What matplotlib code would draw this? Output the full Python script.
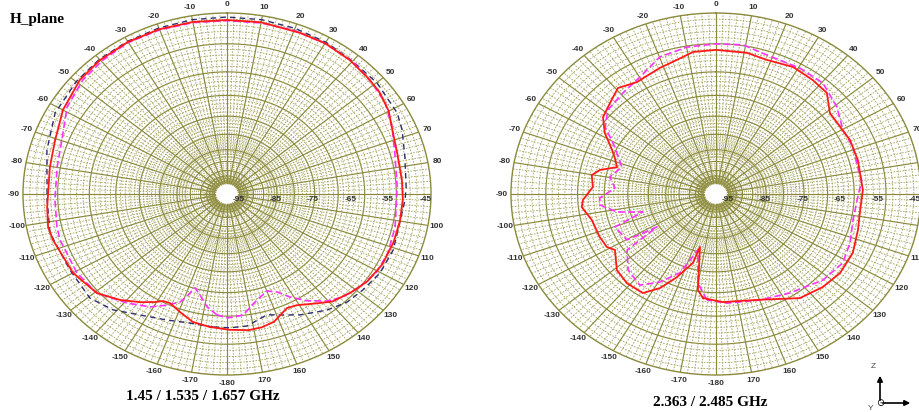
import numpy as np
import matplotlib.pyplot as plt

# Levels (angle in degrees, level in dB)

# left plot: 1.45 / 1.535 / 1.657 GHz
lo_red_ang = [-173.5, -166.7, -160.6, -155.1, -152.0, -149.4, -144.5, -138.2, -130.7, -120.0,
              -106.6, -101.7, -94.7, -80.3, -70.5, -60.0, -48.9, -40.1, -30, -20, -10, 0, 10,
              22, 30, 39, 47, 53, 60, 65, 75, 85, 92, 100, 108, 117, 125, 132, 139, 144, 151,
              155, 162, 167, 172, 179]
lo_red_db = [-57.7, -58.4, -60.3, -61.8, -61.5, -60.2, -58.0, -55.2, -52.2, -50.5,
             -49.5, -49.2, -49.8, -50.0, -49.3, -47.4, -45.8, -45.3, -45.1, -45.2, -45.4, -45.6, -45.5,
             -45.7, -45.6, -46.0, -46.6, -47.0, -48.1, -49.5, -50.9, -51.1, -51.0, -51.1, -51.2, -51.4,
             -52.2, -53.6, -55.1, -57.3, -59.7, -60.1, -57.5, -56.8, -56.6, -57.1]

lo_mag_ang = [-175.8, -171.1, -166.7, -163.2, -161.1, -158.9, -154.4, -148.9, -140.9, -130.7,
              -120.7, -107.2, -102.3, -92.2, -79.9, -69.8, -58.5, -48.3, -39.4, -30.3, -20, -10,
              0, 10, 20, 30, 40.3, 49.2, 57.0, 65.4, 74.6, 87.3, 102.5, 112.4, 120.4, 128.2,
              135.0, 140.3, 146.4, 151.5, 155.6, 159.9, 165.9, 173.3, 179.6]
lo_mag_db = [-61.5, -63.6, -66.7, -68.5, -65.8, -63.1, -60.9, -58.3, -55.7, -52.2,
             -51.4, -51.3, -51.5, -52.0, -51.9, -51.0, -47.9, -46.4, -45.8, -45.3, -45.4, -45.6,
             -45.8, -45.7, -45.6, -45.6, -45.9, -46.8, -47.6, -49.5, -51.5, -52.5, -52.0, -51.5,
             -51.6, -52.8, -54.2, -56.1, -59.4, -62.7, -65.6, -66.9, -65.1, -61.3, -60.7]

lo_navy_ang = [-174.7, -165.7, -157.1, -147.5, -138.9, -130.6, -118.6, -103.9, -92.1, -74.6,
               -62, -50, -40, -30, -20, -10, 0, 10, 20, 30, 40, 50.2, 61.8, 67.6, 76.8, 87.5,
               92.2, 110.8, 120.2, 128.5, 135.4, 142.6, 151.8, 158.7, 163.6, 172.3, 178.9]
lo_navy_db = [-57.8, -57.9, -56.8, -54.8, -51.7, -49.8, -50.2, -49.3, -49.9, -48.1,
              -46.0, -45.4, -45.0, -44.9, -44.8, -44.7, -44.7, -44.7, -44.9, -45.2, -45.8, -45.8,
              -46.4, -47.4, -49.2, -50.1, -50.4, -50.5, -50.7, -51.6, -52.3, -54.0, -56.7, -58.9,
              -60.1, -57.9, -57.7]

# right plot: 2.363 / 2.485 GHz
hi_red_ang = [-173.7, -170.6, -165.1, -163.6, -157.5, -152.3, -146.9, -138.6, -131.0, -122.1,
              -118.8, -112.8, -103.4, -96.3, -92.9, -86.3, -80.2, -76.8, -72.9, -68.0, -64.4,
              -58.1, -52.4, -45.8, -39.2, -31.9, -21.4, -16.1, -8.1, 0, 11.0, 18.6, 28.2, 36.9,
              44.1, 51.2, 65.5, 74.8, 88.2, 98.5, 106.0, 116.0, 125.8, 134.6, 144.5, 161.1, 176.7]
hi_red_db = [-66.5, -68.7, -81.5, -76.4, -70.9, -66.0, -62.4, -62.2, -63.1, -66.3,
             -64.9, -64.5, -64.1, -62.1, -62.6, -65.2, -64.5, -66.3, -70.5, -69.0, -67.4,
             -63.2, -60.1, -58.7, -56.8, -58.3, -57.2, -56.6, -54.8, -54.6, -54.7, -55.4, -54.6,
             -55.1, -55.6, -59.1, -58.8, -58.9, -58.9, -59.3, -58.7, -57.5, -57.3, -58.1, -59.5,
             -64.3, -65.4]

hi_mag_ang = [-175.7, -169.9, -164.1, -158.0, -150.7, -143.6, -134.4, -125.5, -122.3, -120.3,
              -110.3, -105.6, -101.6, -96.1, -92.2, -86.2, -79.7, -72.0, -64.9, -62.2, -55.6,
              -48.6, -39.1, -29.9, -19.8, -9.9, 0, 9.1, 18.0, 30.5, 40.4, 50.8, 60.3, 68.7, 77.9,
              83.8, 92.8, 102.1, 112.5, 121.6, 132.3, 146.6, 159.9, 174.9]
hi_mag_db = [-66.0, -70.8, -80.5, -72.4, -67.6, -63.9, -65.3, -69.0, -79.4, -70.6,
             -69.4, -77.8, -71.1, -67.0, -67.1, -71.1, -69.3, -71.7, -68.9, -67.6, -62.3,
             -59.7, -58.8, -57.4, -54.1, -53.1, -52.8, -52.5, -54.0, -54.0, -54.1, -56.5, -59.1,
             -58.9, -59.4, -59.0, -60.4, -60.7, -59.4, -58.4, -59.5, -62.3, -64.0, -65.0]

radial_labels = [-95, -85, -75, -65, -55, -45]
captions = ['1.45 / 1.535 / 1.657 GHz', '2.363 / 2.485 GHz']

R_MIN, R_MAX = -98.0, -43.5
HOLE = 0.05
GRID_MAJOR = '#8b8a3c'
GRID_MINOR = '#a3a35e'
# chart paper ring spacing (fraction of outer radius), denser towards the centre
RINGS = [1.0, 0.83, 0.675, 0.545, 0.43, 0.33, 0.245, 0.18, 0.13, 0.10, 0.085, 0.072, 0.062]


def frac_to_r(f):
    return R_MIN + f * (R_MAX - R_MIN)


def closed(ang, db):
    return np.deg2rad(np.r_[ang, ang[0]]), np.r_[db, db[0]]


def polar_paper(ax):
    ax.set_theta_zero_location('N')
    ax.set_theta_direction(-1)
    ax.set_ylim(R_MIN, R_MAX)
    ax.set_aspect('auto')
    ax.grid(False)
    ax.set_xticks([])
    ax.set_yticks([])
    ax.spines['polar'].set_color(GRID_MAJOR)
    ax.spines['polar'].set_linewidth(1.0)

    th = np.linspace(0, 2 * np.pi, 721)
    for f in RINGS[1:]:
        ax.plot(th, np.full(th.size, frac_to_r(f)), color=GRID_MAJOR, lw=0.85, zorder=1)
    for f0, f1 in zip(RINGS[:-1], RINGS[1:]):
        for k in range(1, 5):
            f = f1 + (f0 - f1) * k / 5
            ax.plot(th, np.full(th.size, frac_to_r(f)), color=GRID_MINOR, lw=0.6,
                    ls=(0, (2, 1.6)), zorder=1)

    r_in = frac_to_r(HOLE)
    for d in range(0, 360, 2):
        t = np.deg2rad(d)
        if d % 10 == 0:
            ax.plot([t, t], [r_in, R_MAX], color=GRID_MAJOR, lw=0.85, zorder=1)
        else:
            ax.plot([t, t], [frac_to_r(0.2), R_MAX], color=GRID_MINOR, lw=0.6,
                    ls=(0, (2, 1.6)), zorder=1)

    ax.fill(th, np.full(th.size, r_in), color='white', zorder=4)

    r_lab = frac_to_r(1.045)
    for d in range(-170, 190, 10):
        if d == 90:
            continue
        txt = '-180' if d == 180 else str(d)
        ax.text(np.deg2rad(d), r_lab, txt, ha='center', va='center', fontsize=6,
                fontweight='bold', family='Liberation Sans', color='#333333', clip_on=False)

    for v in radial_labels:
        ax.annotate(str(v), xy=(np.pi / 2, v), xytext=(0, -4), textcoords='offset points',
                    ha='center', va='center', fontsize=6, fontweight='bold',
                    family='Liberation Sans', color='#333333', zorder=6)


fig = plt.figure(figsize=(9.19, 4.12), dpi=100)
ax1 = fig.add_axes([0.025, 0.0898, 0.444, 0.8786], projection='polar')
ax2 = fig.add_axes([0.556, 0.0898, 0.446, 0.8786], projection='polar')

for ax in (ax1, ax2):
    polar_paper(ax)

t, r = closed(lo_navy_ang, lo_navy_db)
ax1.plot(t, r, color='#2e2e6e', lw=1.0, ls=(0, (4, 3)), zorder=5)
t, r = closed(lo_mag_ang, lo_mag_db)
ax1.plot(t, r, color='#ff33ff', lw=1.2, ls=(0, (4, 2)), zorder=5)
t, r = closed(lo_red_ang, lo_red_db)
ax1.plot(t, r, color='#ff1a1a', lw=1.3, zorder=5)

t, r = closed(hi_mag_ang, hi_mag_db)
ax2.plot(t, r, color='#ff33ff', lw=1.2, ls=(0, (4, 2)), zorder=5)
t, r = closed(hi_red_ang, hi_red_db)
ax2.plot(t, r, color='#ff1a1a', lw=1.3, zorder=5)

fig.text(10 / 919, 1 - 20 / 412, 'H_plane', ha='left', va='center', fontsize=11,
         fontweight='bold', family='Liberation Serif')
fig.text(203 / 919, 1 - 397 / 412, captions[0], ha='center', va='center', fontsize=11,
         fontweight='bold', family='Liberation Serif')
fig.text(710 / 919, 1 - 402 / 412, captions[1], ha='center', va='center', fontsize=11,
         fontweight='bold', family='Liberation Serif')

# little axis triad in the corner
arrow = dict(arrowstyle='-|>', color='black', lw=1.2, mutation_scale=8)
fig.add_artist(plt.Annotation('', xy=(880, 412 - 373), xytext=(880, 412 - 403),
                              xycoords='figure pixels', textcoords='figure pixels',
                              arrowprops=arrow))
fig.add_artist(plt.Annotation('', xy=(913, 412 - 403), xytext=(880, 412 - 403),
                              xycoords='figure pixels', textcoords='figure pixels',
                              arrowprops=arrow))
fig.text(873 / 919, 1 - 366 / 412, 'Z', fontsize=6, ha='center', va='center',
         family='Liberation Sans', color='#444444')
fig.text(871 / 919, 1 - 409 / 412, 'Y', fontsize=6, ha='center', va='center',
         family='Liberation Sans', color='#444444')
fig.text(880 / 919, 1 - 403 / 412, '\u2299', fontsize=7, ha='center', va='center',
         family='DejaVu Sans')

fig.savefig('out.png', dpi=100)
